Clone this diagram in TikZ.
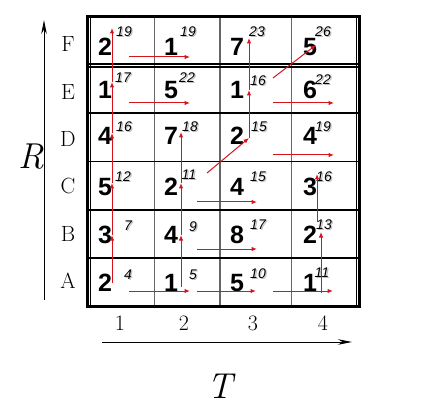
\documentclass[tikz,border=0pt]{standalone}
\usepackage{fontspec}
\newfontfamily\arialf{Liberation Sans}
\usetikzlibrary{arrows.meta}
\definecolor{arrred}{RGB}{215,20,30}
\newcommand\shadowed[1]{\makebox[0pt][l]{\kern1.3pt\raisebox{-1.3pt}{\textcolor{black!25}{#1}}}#1}
\newcommand\mycell[7]{%
  \node[bignum] (#1) at (#2,#3) {#4};
  \node[supnum] (#1s) at (#5,#6) {\shadowed{#7}};}
\begin{document}
\begin{tikzpicture}[x=1pt,y=-1pt,
  bignum/.style={font=\arialf\bfseries\fontsize{25}{25}\selectfont, inner sep=0pt},
  supnum/.style={font=\arialf\itshape\fontsize{14}{14}\selectfont, inner sep=0pt},
  lab/.style={font=\fontsize{22}{22}\selectfont, inner sep=0pt},
  axlab/.style={font=\itshape\fontsize{36}{36}\selectfont, inner sep=0pt},
  redarr/.style={draw=arrred, line width=1pt, -{Latex[length=5.5pt,width=4.5pt]}},
  axarr/.style={draw=black, line width=0.8pt, -{Stealth[length=14pt,width=5.5pt]}},
  colline/.style={draw=black!60, line width=1.5pt},
  rowline/.style={draw=black, line width=1.2pt},
  ]
\useasboundingbox (0,0) rectangle (435,411);
% grid
\draw[colline] (154.5,16.5) -- (154.5,306.5);
\draw[colline] (220,16.5) -- (220,306.5);
\draw[colline] (291.5,16.5) -- (291.5,306.5);
\draw[rowline] (87,64) -- (359.5,64);
\draw[rowline] (87,67) -- (359.5,67);
\draw[rowline] (87,113) -- (359.5,113);
\draw[rowline] (87,161.5) -- (359.5,161.5);
\draw[rowline] (87,210) -- (359.5,210);
\draw[rowline] (87,258) -- (359.5,258);
\draw[line width=0.8pt] (90.5,16.5) -- (90.5,306.5);
\draw[line width=0.8pt] (356,16.5) -- (356,306.5);
\draw[line width=3pt] (87,16.5) rectangle (359.5,306.5);
% cells: name, x, y, digit, supx, supy, sup
\mycell{f1}{105}{47}{2}{124}{32}{19}
\mycell{f2}{171}{47}{1}{188}{32}{19}
\mycell{f3}{237}{47}{7}{257}{32}{23}
\mycell{f4}{310}{47}{5}{323}{32}{26}
\mycell{e1}{105}{90}{1}{123}{78}{17}
\mycell{e2}{171}{90}{5}{187}{78}{22}
\mycell{e3}{237}{90}{1}{258}{81}{16}
\mycell{e4}{310}{90}{6}{323}{80}{22}
\mycell{d1}{105}{136}{4}{124}{127}{16}
\mycell{d2}{171}{136}{7}{190}{127}{18}
\mycell{d3}{237}{136}{2}{259}{127}{15}
\mycell{d4}{310}{136}{4}{323}{127}{19}
\mycell{c1}{105}{187}{5}{123}{177}{12}
\mycell{c2}{171}{187}{2}{189}{175}{11}
\mycell{c3}{237}{187}{4}{258}{177}{15}
\mycell{c4}{310}{187}{3}{324}{177}{16}
\mycell{b1}{105}{235}{3}{128}{226}{7}
\mycell{b2}{171}{235}{4}{193}{227}{9}
\mycell{b3}{237}{235}{8}{258}{225}{17}
\mycell{b4}{310}{235}{2}{324}{225}{13}
\mycell{a1}{105}{283}{2}{128}{275}{4}
\mycell{a2}{171}{283}{1}{193}{275}{5}
\mycell{a3}{237}{283}{5}{258}{274}{10}
\mycell{a4}{310}{283}{1}{322}{273}{11}
% row labels
\node[lab] (lF) at (68,44) {F};
\node[lab] (lE) at (68,92) {E};
\node[lab] (lD) at (68,139) {D};
\node[lab] (lC) at (68,186) {C};
\node[lab] (lB) at (68,234) {B};
\node[lab] (lA) at (68,281) {A};
% column labels
\node[lab] (t1) at (120,323) {1};
\node[lab] (t2) at (184,323) {2};
\node[lab] (t3) at (253,323) {3};
\node[lab] (t4) at (323,323) {4};
% axes
\coordinate (vy0) at (44,300);
\coordinate (vy1) at (44,20);
\draw[axarr] (vy0) -- (vy1);
\coordinate (hx0) at (102,342);
\coordinate (hx1) at (352,342);
\draw[axarr] (hx0) -- (hx1);
\node[axlab] (R) at (31,157) {R};
\node[axlab] (T) at (220,386) {T};
% red arrow points
\coordinate (p1a) at (112,283);
\coordinate (p1b) at (112,235);
\coordinate (p1c) at (112,183);
\coordinate (p1d) at (112,133);
\coordinate (p1e) at (112,82);
\coordinate (p1f) at (112,28);
\draw[redarr] (p1a) -- (p1b);
\draw[redarr] (p1b) -- (p1c);
\draw[redarr] (p1c) -- (p1d);
\draw[redarr] (p1d) -- (p1e);
\draw[redarr] (p1e) -- (p1f);
\coordinate (p2a) at (181,287);
\coordinate (p2b) at (181,235);
\coordinate (p2c) at (181,183);
\coordinate (p2d) at (181,132);
\draw[redarr] (p2a) -- (p2b);
\draw[redarr] (p2b) -- (p2c);
\draw[redarr] (p2c) -- (p2d);
\coordinate (q3s) at (207,173);
\coordinate (p3d) at (249,138);
\coordinate (p3e) at (249,90);
\coordinate (p3f) at (249,38);
\draw[redarr] (q3s) -- (p3d);
\draw[redarr] (p3d) -- (p3e);
\draw[redarr] (p3e) -- (p3f);
\coordinate (q4s) at (273,78);
\coordinate (q4e) at (316,45);
\draw[redarr] (q4s) -- (q4e);
\coordinate (p4a) at (321,293);
\coordinate (p4b) at (321,232);
\draw[redarr] (p4a) -- (p4b);
\coordinate (p4c0) at (317,222);
\coordinate (p4c) at (317,174);
\draw[redarr] (p4c0) -- (p4c);
% horizontal red arrows
\coordinate (hF0) at (129,57);   \coordinate (hF1) at (190,57);
\coordinate (hE0) at (129,103);  \coordinate (hE1) at (190,103);
\coordinate (hE2) at (273,103);  \coordinate (hE3) at (334,103);
\coordinate (hD2) at (273,155);  \coordinate (hD3) at (334,155);
\coordinate (hC1) at (197,202);  \coordinate (hC2) at (257,202);
\coordinate (hB1) at (197,249);  \coordinate (hB2) at (257,249);
\coordinate (hA0) at (129,291);  \coordinate (hA1) at (190,291);
\coordinate (hA2) at (197,291);  \coordinate (hA3) at (256,291);
\coordinate (hA4) at (273,291);  \coordinate (hA5) at (333,291);
\draw[redarr] (hF0) -- (hF1);
\draw[redarr] (hE0) -- (hE1);
\draw[redarr] (hE2) -- (hE3);
\draw[redarr] (hD2) -- (hD3);
\draw[redarr] (hC1) -- (hC2);
\draw[redarr] (hB1) -- (hB2);
\draw[redarr] (hA0) -- (hA1);
\draw[redarr] (hA2) -- (hA3);
\draw[redarr] (hA4) -- (hA5);
\end{tikzpicture}
\end{document}
